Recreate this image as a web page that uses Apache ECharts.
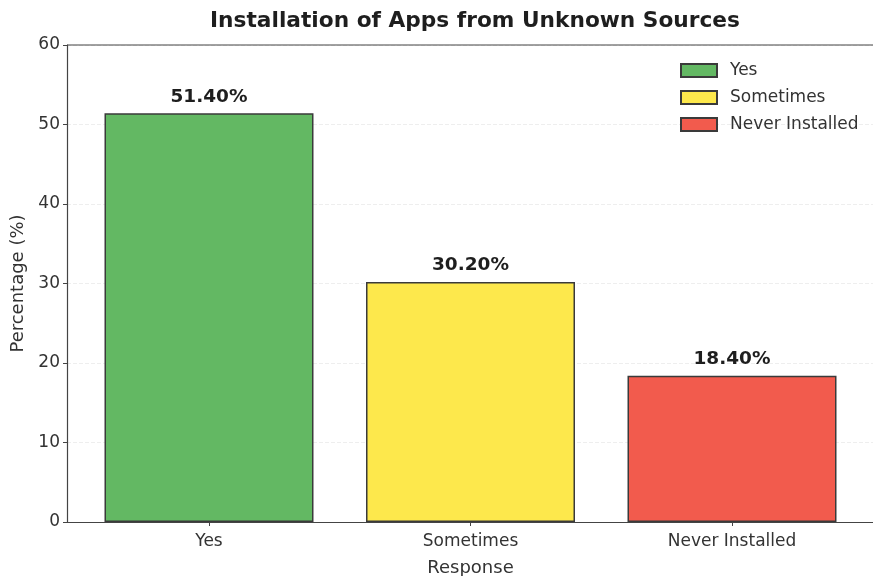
<!DOCTYPE html>
<html>
<head>
<meta charset="utf-8">
<title>Installation of Apps from Unknown Sources</title>
<script src="https://cdn.jsdelivr.net/npm/echarts@6/dist/echarts.min.js"></script>
<style>
  html, body { margin: 0; padding: 0; background: #ffffff; }
  #chart { width: 873px; height: 576px; }
</style>
</head>
<body>
<div id="chart"></div>
<script>
// Survey responses and their shares (%)
const categories = ['Yes', 'Sometimes', 'Never Installed'];
const percentages = [51.4, 30.2, 18.4];
const barColors = ['#63b863', '#fde84c', '#f25b4d'];
const yTicks = [0, 10, 20, 30, 40, 50, 60];

const FONT = '"DejaVu Sans", "Liberation Sans", sans-serif';
const chart = echarts.init(document.getElementById('chart'), null, { renderer: 'canvas' });

// one series per response so each gets its own legend entry;
// bars sit at integer positions 0, 1, 2 on a numeric x axis and overlap fully
const series = categories.map((name, i) => ({
  name: name,
  type: 'bar',
  barWidth: 209,
  barGap: '-100%',
  data: [[i, percentages[i]]],
  itemStyle: { color: barColors[i], borderColor: '#3a3a3a', borderWidth: 1.5 },
  label: {
    show: true,
    position: 'top',
    distance: 7,
    formatter: (p) => p.value[1].toFixed(2) + '%',
    fontFamily: FONT,
    fontWeight: 'bold',
    fontSize: 18.5,
    color: '#1e1e1e'
  }
}));

chart.setOption({
  animation: false,
  backgroundColor: '#ffffff',
  title: {
    text: 'Installation of Apps from Unknown Sources',
    left: 470, top: 5, textAlign: 'center',
    textStyle: { fontFamily: FONT, fontWeight: 'bold', fontSize: 21.7, color: '#1e1e1e' }
  },
  legend: {
    orient: 'vertical',
    left: 675, top: 57,
    itemWidth: 36, itemHeight: 13, itemGap: 10,
    icon: 'rect',
    textStyle: { fontFamily: FONT, fontSize: 17, color: '#333333', padding: [0, 0, 0, 8] },
    data: categories
  },
  grid: { left: 67, right: -1, top: 45, bottom: 54, containLabel: false, outerBoundsMode: 'none' },
  xAxis: {
    type: 'value',
    min: -0.543, max: 2.543,
    name: 'Response',
    nameLocation: 'middle',
    nameGap: 37,
    nameTextStyle: { fontFamily: FONT, fontSize: 18, color: '#333333' },
    axisLine: { show: true, onZero: false, lineStyle: { color: '#444444', width: 1.2 } },
    axisTick: { show: true, customValues: [0, 1, 2], length: 4, lineStyle: { color: '#444444' } },
    axisLabel: {
      customValues: [0, 1, 2],
      formatter: (v) => categories[Math.round(v)],
      fontFamily: FONT, fontSize: 17, color: '#333333', margin: 11
    },
    splitLine: { show: false }
  },
  yAxis: {
    type: 'value',
    min: 0, max: 60, interval: 10,
    name: 'Percentage (%)',
    nameLocation: 'middle',
    nameGap: 40,
    nameTextStyle: { fontFamily: FONT, fontSize: 18, color: '#333333' },
    axisLine: { show: true, onZero: false, lineStyle: { color: '#444444', width: 1.2 } },
    axisTick: { show: true, length: 4, lineStyle: { color: '#444444' } },
    axisLabel: {
      formatter: (v) => yTicks.includes(v) ? String(v) : '',
      fontFamily: FONT, fontSize: 17, color: '#333333', margin: 7
    },
    splitLine: { show: true, lineStyle: { color: '#eeeeee', type: 'dashed', width: 1 } }
  },
  graphic: [{
    // top spine of the plot frame
    type: 'line',
    shape: { x1: 67, y1: 45, x2: 873, y2: 45 },
    style: { stroke: '#444444', lineWidth: 1.2 },
    z: 10
  }],
  series: series
});
</script>
</body>
</html>
